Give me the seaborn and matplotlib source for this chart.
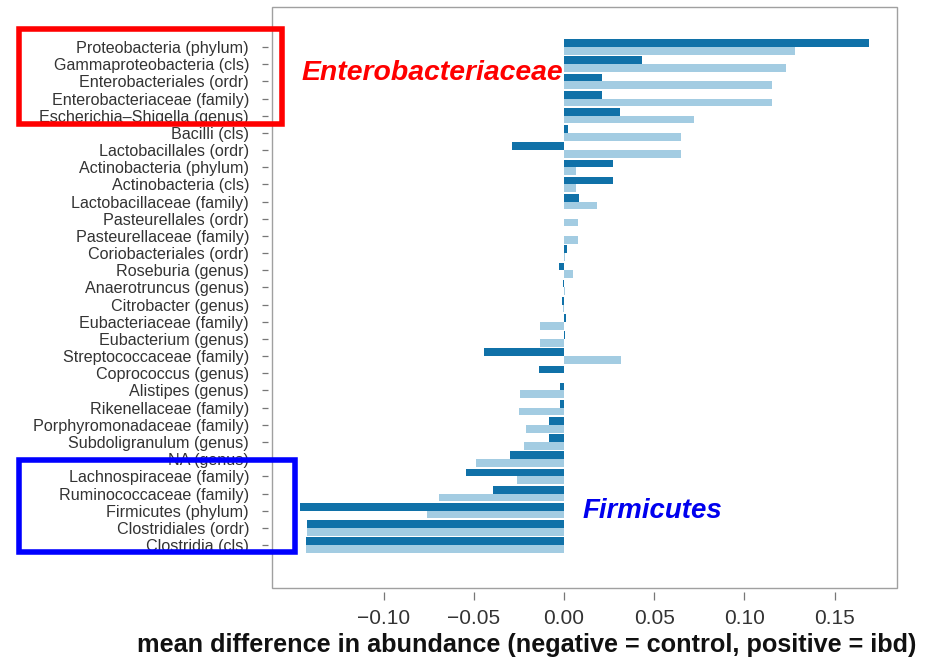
import matplotlib
matplotlib.use("Agg")
import matplotlib.pyplot as plt
from matplotlib import font_manager as fm
from matplotlib.patches import Rectangle
import seaborn as sns
import pandas as pd

categories = [
    "Proteobacteria (phylum)", "Gammaproteobacteria (cls)", "Enterobacteriales (ordr)",
    "Enterobacteriaceae (family)", "Escherichia\u2013Shigella (genus)", "Bacilli (cls)",
    "Lactobacillales (ordr)", "Actinobacteria (phylum)", "Actinobacteria (cls)",
    "Lactobacillaceae (family)", "Pasteurellales (ordr)", "Pasteurellaceae (family)",
    "Coriobacteriales (ordr)", "Roseburia (genus)", "Anaerotruncus (genus)",
    "Citrobacter (genus)", "Eubacteriaceae (family)", "Eubacterium (genus)",
    "Streptococcaceae (family)", "Coprococcus (genus)", "Alistipes (genus)",
    "Rikenellaceae (family)", "Porphyromonadaceae (family)", "Subdoligranulum (genus)",
    "NA (genus)", "Lachnospiraceae (family)", "Ruminococcaceae (family)",
    "Firmicutes (phylum)", "Clostridiales (ordr)", "Clostridia (cls)",
]
series_dark = [0.169, 0.043, 0.021, 0.021, 0.031, 0.002, -0.029, 0.027, 0.027, 0.0085,
               0.0, 0.0, 0.0015, -0.003, -0.0006, -0.0012, 0.0012, 0.0004, -0.0442, -0.014,
               -0.0022, -0.0022, -0.0081, -0.0081, -0.030, -0.0543, -0.0395, -0.1463, -0.1426, -0.143]
series_light = [0.128, 0.1232, 0.1151, 0.1151, 0.0721, 0.065, 0.065, 0.0065, 0.0065, 0.0183,
                0.0076, 0.0076, 0.0007, 0.0052, 0.0003, -0.0003, -0.0131, -0.0131, 0.0314, 0.0,
                -0.0244, -0.0248, -0.0209, -0.022, -0.0488, -0.0259, -0.0691, -0.0761, -0.1426, -0.143]
series_names = ["set 1", "set 2"]
xticks = [-0.10, -0.05, 0.00, 0.05, 0.10, 0.15]
xlabel = "mean difference in abundance (negative = control, positive = ibd)"

df = pd.DataFrame({
    "taxon": categories * 2,
    "value": series_dark + series_light,
    "series": [series_names[0]] * len(categories) + [series_names[1]] * len(categories),
})

sns.set_theme(style="white")
names = {f.name for f in fm.fontManager.ttflist}
narrow = "Liberation Sans Narrow" if "Liberation Sans Narrow" in names else "Liberation Sans"
plt.rcParams["font.family"] = [narrow, "Liberation Sans", "DejaVu Sans"]
label_size = 14.0 if narrow == "Liberation Sans Narrow" else 11.6

W, H = 934, 657
fig = plt.figure(figsize=(W / 100, H / 100), dpi=100)
ax_l, ax_r, ax_t, ax_b = 272, 897, 7, 588
ax = fig.add_axes([ax_l / W, 1 - ax_b / H, (ax_r - ax_l) / W, (ax_b - ax_t) / H])

sns.barplot(data=df, x="value", y="taxon", hue="series", order=categories,
            hue_order=series_names, palette=["#1071a8", "#a3cce2"], orient="h",
            width=0.9, saturation=1, linewidth=0, legend=False, ax=ax)

n = len(categories)
ax.set_ylim(n - 1 + 2.5, -2.33)
ax.set_xlim(-0.1619, 0.1846)
ax.set_xticks(xticks)
ax.set_xticklabels([f"{v:.2f}".replace("-", "\u2212") for v in xticks])
ax.set_ylabel("")
ax.set_xlabel(xlabel, fontsize=18.2, fontweight="bold", family=["Liberation Sans", "DejaVu Sans"],
              color="#111111")
ax.xaxis.label.set_verticalalignment("center")
ax.xaxis.set_label_coords((527 - ax_l) / (ax_r - ax_l), (ax_b - 645) / (ax_b - ax_t))

for s in ["left", "bottom"]:
    ax.spines[s].set_position(("outward", 3))
    ax.spines[s].set_color("none")
for s in ["top", "right"]:
    ax.spines[s].set_visible(False)
ax.add_patch(Rectangle((0, 0), 1, 1, transform=ax.transAxes, fill=False,
                       edgecolor="#a0a0a0", linewidth=1.0, zorder=5, clip_on=False))

ax.tick_params(axis="y", direction="out", length=4.5, width=0.9, color="#777777",
               labelsize=label_size, labelcolor="#333333", pad=9, left=True)
ax.tick_params(axis="x", direction="out", length=6, width=0.9, color="#777777",
               labelsize=15, labelcolor="#333333", pad=6, bottom=True)

# highlight boxes and annotations
red_box = Rectangle((19 / W, 1 - 124 / H), (282 - 19) / W, (124 - 29) / H, transform=fig.transFigure,
                    fill=False, edgecolor="#ff0000", linewidth=4, zorder=10)
blue_box = Rectangle((19 / W, 1 - 552 / H), (295 - 19) / W, (552 - 460) / H, transform=fig.transFigure,
                     fill=False, edgecolor="#0000ff", linewidth=4, zorder=10)
fig.patches.extend([red_box, blue_box])
fig.text(302 / W, 1 - 73 / H, "Enterobacteriaceae", color="#ff0000", fontsize=20.4,
         fontweight="bold", fontstyle="italic", va="center", ha="left",
         family=["Liberation Sans", "DejaVu Sans"])
fig.text(583 / W, 1 - 511 / H, "Firmicutes", color="#0000ee", fontsize=19.9,
         fontweight="bold", fontstyle="italic", va="center", ha="left",
         family=["Liberation Sans", "DejaVu Sans"])

fig.savefig("out.png", dpi=100)
